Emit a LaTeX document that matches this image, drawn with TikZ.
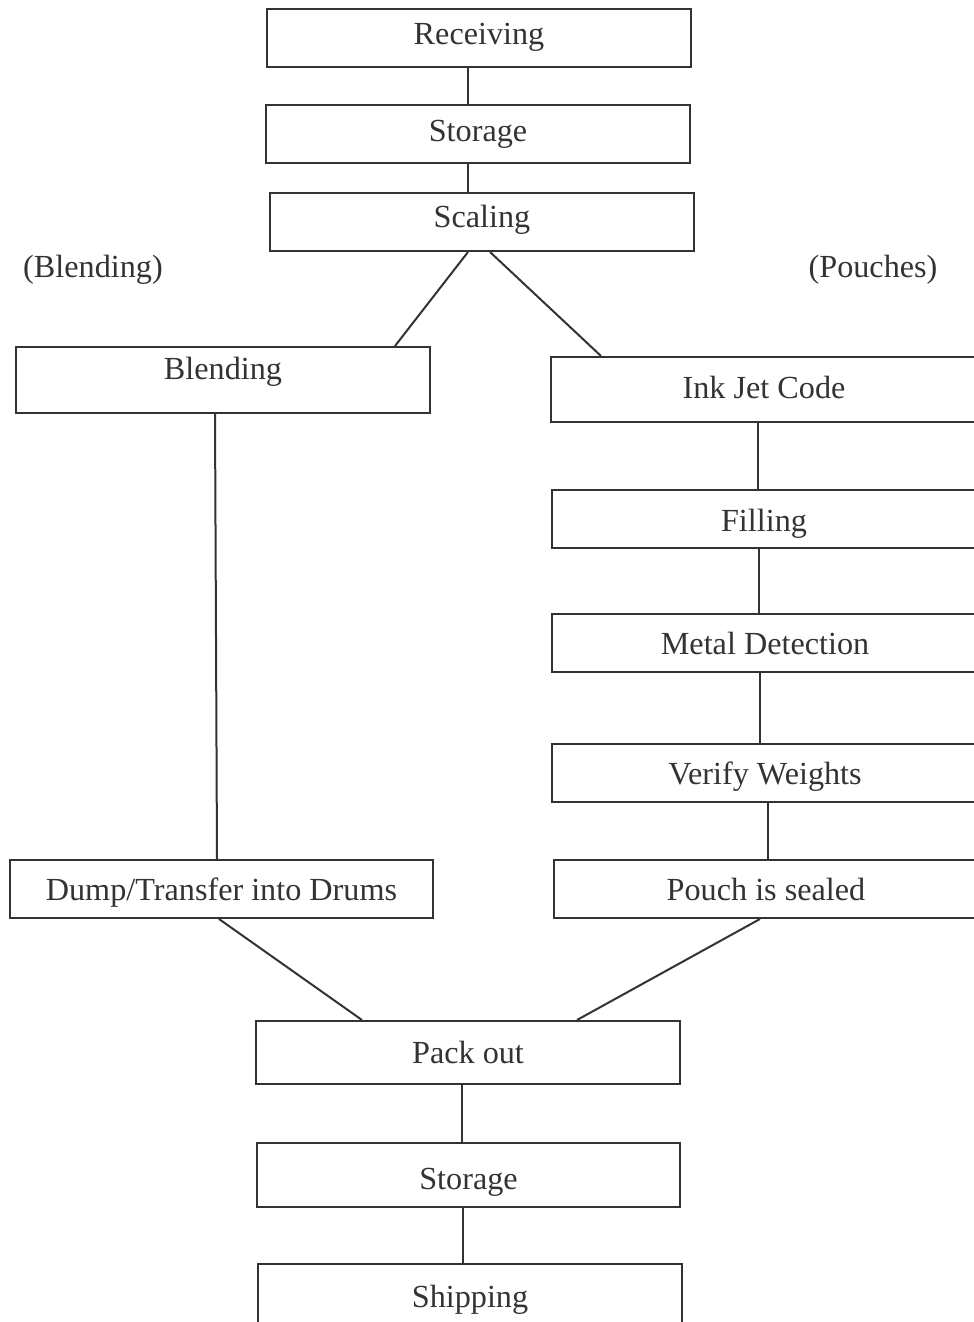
\documentclass[tikz,border=0pt]{standalone}
\usepackage{fontspec}
\setmainfont{Liberation Serif}
\usepackage{tikz}

\begin{document}
\begin{tikzpicture}[x=0.5pt, y=-0.5pt, line width=1pt, draw=black!80, text=black!80,
		box/.style={rectangle,draw,inner sep=0pt,minimum width=212pt,minimum height=29pt,font=\fontsize{16.1}{19}\selectfont},
		lbl/.style={font=\fontsize{16.1}{19}\selectfont}]
			\useasboundingbox (0,0) rectangle (974,1322);
			\clip (0,0) rectangle (974,1322);
			
			\node[box,text depth=4pt] (rec) at (479,38) {Receiving};
			\node[box,text depth=3pt] (sto) at (478,134) {Storage};
			\node[box,text depth=6pt] (sca) at (482,222) {Scaling};
			\node[lbl] (lblb) at (93,270) {(Blending)};
			\node[lbl] (lblp) at (873,270) {(Pouches)};
			\node[box,minimum width=207pt,minimum height=33pt,text depth=12pt] (bln) at (223,380) {Blending};
			\node[box,minimum width=213pt,minimum height=32.5pt,text depth=2pt] (ink) at (764,389.5) {Ink Jet Code};
			\node[box,text height=16pt,text depth=3.5pt] (fil) at (764,519) {Filling};
			\node[box,minimum width=213pt] (met) at (765,643) {Metal Detection};
			\node[box,minimum width=213pt,text depth=0pt] (ver) at (765,773) {Verify Weights};
			\node[box,minimum width=211.5pt,text depth=0pt] (dmp) at (221.5,889) {Dump/Transfer into Drums};
			\node[box] (pch) at (766,889) {Pouch is sealed};
			\node[box,minimum height=31.5pt] (pck) at (468,1052.5) {Pack out};
			\node[box,minimum width=211.5pt,minimum height=32pt,text height=15pt,text depth=1pt] (st2) at (468.5,1175) {Storage};
			\node[box,minimum height=33pt,text depth=1pt] (shp) at (470,1297) {Shipping};
			
			\path ([xshift=-5.5pt]rec.south) edge ([xshift=-5pt]sto.north);
			\path ([xshift=-5pt]sto.south) edge ([xshift=-7pt]sca.north);
			\path ([xshift=-7pt]sca.south) edge ([xshift=86pt]bln.north);
			\path ([xshift=4pt]sca.south) edge ([xshift=-81.5pt]ink.north);
			\path ([xshift=-4pt]bln.south) edge ([xshift=-2.25pt]dmp.north);
			\path ([xshift=-3pt]ink.south) edge ([xshift=-3pt]fil.north);
			\path ([xshift=-2.5pt]fil.south) edge ([xshift=-3pt]met.north);
			\path ([xshift=-2.5pt]met.south) edge ([xshift=-2.5pt]ver.north);
			\path ([xshift=1.5pt]ver.south) edge ([xshift=1pt]pch.north);
			\path ([xshift=-1.25pt]dmp.south) edge ([xshift=-53pt]pck.north);
			\path ([xshift=-3pt]pch.south) edge ([xshift=54.5pt]pck.north);
			\path ([xshift=-3pt]pck.south) edge ([xshift=-3.25pt]st2.north);
			\path ([xshift=-2.75pt]st2.south) edge ([xshift=-3.5pt]shp.north);
		\end{tikzpicture}
\end{document}
